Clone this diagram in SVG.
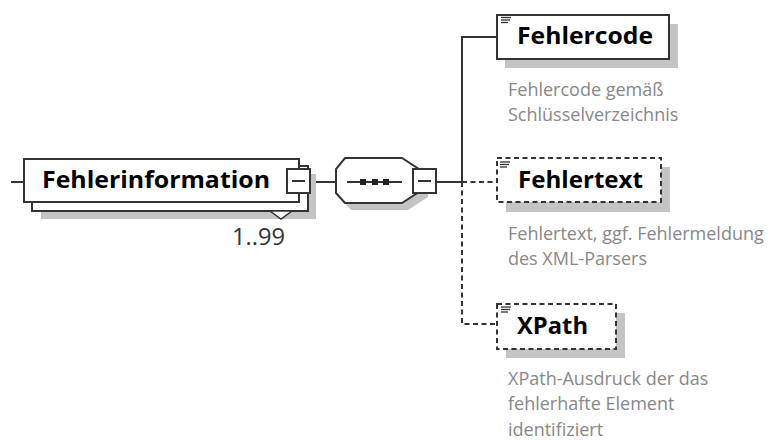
<svg xmlns="http://www.w3.org/2000/svg" width="777" height="440" viewBox="0 0 777 440">
<style>
.box{fill:#fff;stroke:#333;stroke-width:2}
.dash{stroke-dasharray:5 3.5}
.shadow{fill:#c4c4c4}
.ln{stroke:#333;stroke-width:2;fill:none}
.title{font-family:"Open Sans","Noto Sans",sans-serif;font-weight:bold;font-size:24px;fill:#000}
.desc{font-family:"Open Sans","Noto Sans",sans-serif;font-size:18px;fill:#888}
.mult{font-family:"Open Sans","Noto Sans",sans-serif;font-size:23px;fill:#333}
.icon{stroke:#333;stroke-width:1.3}
</style>
<rect width="777" height="440" fill="#fff"/>
<g id="connectors">
<line class="ln" x1="11" y1="182" x2="24" y2="182"/>
<line class="ln" x1="310" y1="182" x2="336" y2="182"/>
<line class="ln" x1="436" y1="182" x2="462" y2="182"/>
<polyline class="ln" points="497,37 462,37 462,182"/>
<line class="ln dash" x1="462" y1="182" x2="497" y2="182"/>
<polyline class="ln dash" points="462,182 462,324 497,324"/>
</g>
<g id="Fehlerinformation">
<rect class="shadow" x="41" y="174" width="275" height="45"/>
<rect class="box" x="32" y="166" width="276" height="45"/>
<rect class="box" x="24" y="159" width="275" height="43"/>
<text class="title" x="42" y="188" textLength="228" lengthAdjust="spacingAndGlyphs">Fehlerinformation</text>
<rect class="box" x="287" y="169" width="23" height="24"/>
<line class="ln" x1="292" y1="181" x2="305" y2="181"/>
<polygon points="270,211 281,219 292,211" fill="#fff" stroke="#333" stroke-width="1.5"/>
<text class="mult" x="232" y="245" textLength="53" lengthAdjust="spacingAndGlyphs">1..99</text>
</g>
<g id="sequence">
<polygon class="shadow" points="351,165 408,165 428,178 428,197 408,210 351,210 342,200 342,176"/>
<polygon class="box" points="345,158 402,158 422,171 422,190 402,203 345,203 336,193 336,169"/>
<line class="ln" x1="347" y1="182" x2="402" y2="182"/>
<rect x="360" y="179" width="6" height="6" fill="#222"/>
<rect x="372" y="179" width="6" height="6" fill="#222"/>
<rect x="383" y="179" width="6" height="6" fill="#222"/>
<rect class="box" x="413" y="169" width="23" height="24"/>
<line class="ln" x1="418" y1="181" x2="431" y2="181"/>
</g>
<g id="Fehlercode">
<rect class="shadow" x="505" y="24" width="173" height="44"/>
<rect class="box" x="497" y="15" width="172" height="44"/>
<line class="icon" x1="501" y1="17.5" x2="511" y2="17.5"/>
<line class="icon" x1="501" y1="20" x2="510" y2="20"/>
<line class="icon" x1="501" y1="22.5" x2="508" y2="22.5"/>
<text class="title" x="517" y="44" textLength="136" lengthAdjust="spacingAndGlyphs">Fehlercode</text>
<text class="desc" x="508" y="96">Fehlercode gemäß</text>
<text class="desc" x="508" y="121">Schlüsselverzeichnis</text>
</g>
<g id="Fehlertext">
<rect class="shadow" x="506" y="167" width="164" height="45"/>
<rect class="box dash" x="497" y="158" width="164" height="44"/>
<line class="icon" x1="500" y1="162" x2="510" y2="162"/>
<line class="icon" x1="500" y1="164.5" x2="509" y2="164.5"/>
<line class="icon" x1="500" y1="167" x2="507" y2="167"/>
<text class="title" x="518" y="188" textLength="125" lengthAdjust="spacingAndGlyphs">Fehlertext</text>
<text class="desc" x="508" y="240">Fehlertext, ggf. Fehlermeldung</text>
<text class="desc" x="508" y="265">des XML-Parsers</text>
</g>
<g id="XPath">
<rect class="shadow" x="506" y="313" width="119" height="45"/>
<rect class="box dash" x="497" y="304" width="119" height="45"/>
<line class="icon" x1="501" y1="307" x2="511" y2="307"/>
<line class="icon" x1="501" y1="309.5" x2="510" y2="309.5"/>
<line class="icon" x1="501" y1="312" x2="508" y2="312"/>
<text class="title" x="517" y="334" textLength="71" lengthAdjust="spacingAndGlyphs">XPath</text>
<text class="desc" x="508" y="385">XPath-Ausdruck der das</text>
<text class="desc" x="508" y="410">fehlerhafte Element</text>
<text class="desc" x="508" y="436">identifiziert</text>
</g>
</svg>
